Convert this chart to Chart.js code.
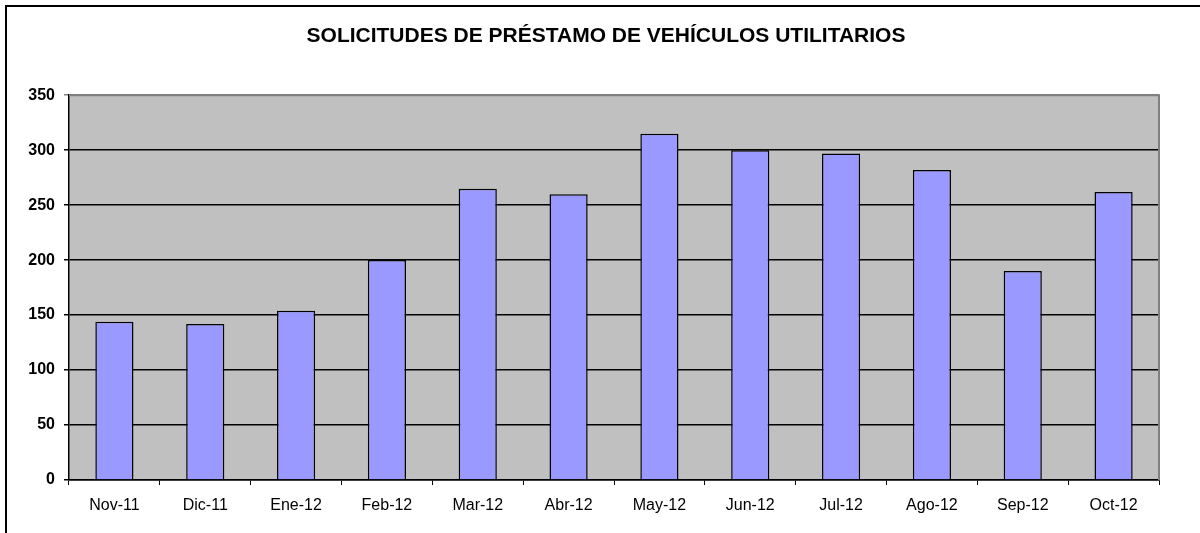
<!DOCTYPE html>
<html lang="es">
<head>
    <meta charset="UTF-8">
    <title>Solicitudes de préstamo</title>
    <script src="https://cdn.jsdelivr.net/npm/chart.js@4.4.0/dist/chart.umd.min.js"></script>
    <style>
        html, body { margin: 0; padding: 0; overflow: hidden; background: #fff; }
        .marco { position: absolute; left: 5px; top: 5px; width: 1300px; height: 700px; border: 2px solid #000; }
        .caja { position: absolute; left: 0; top: 0; width: 1212px; height: 533px; }
    </style>
</head>
<body>
    <div class="marco"></div>
    <div class="caja">
        <canvas id="canvas_grafico" width="1212" height="533"></canvas>
    </div>
<script>
    const meses = ['Nov-11', 'Dic-11', 'Ene-12', 'Feb-12', 'Mar-12', 'Abr-12', 'May-12', 'Jun-12', 'Jul-12', 'Ago-12', 'Sep-12', 'Oct-12'];
    const solicitudes = [144, 142, 154, 200, 265, 260, 315, 300, 297, 282, 190, 262];
    const ejeY = [0, 50, 100, 150, 200, 250, 300, 350];

    // fondo gris del area de trazado y borde gris arriba/derecha
    const fondo = {
        id: 'fondo',
        beforeDraw(chart) {
            const { ctx, chartArea: a } = chart;
            ctx.save();
            ctx.fillStyle = '#C0C0C0';
            ctx.fillRect(a.left, a.top, a.right - a.left, a.bottom - a.top);
            ctx.restore();
        },
        beforeDatasetsDraw(chart) {
            const { ctx, chartArea: a } = chart;
            ctx.save();
            ctx.strokeStyle = '#808080';
            ctx.lineWidth = 2;
            ctx.beginPath();
            ctx.moveTo(a.left, a.top);
            ctx.lineTo(a.right, a.top);
            ctx.lineTo(a.right, a.bottom);
            ctx.stroke();
            ctx.restore();
        }
    };

    const config = {
        type: 'bar',
        data: {
            labels: meses,
            datasets: [{
                data: solicitudes,
                backgroundColor: '#9999FF',
                borderColor: '#000000',
                borderWidth: 1.5,
                barPercentage: 0.42,
                categoryPercentage: 1
            }]
        },
        options: {
            responsive: false,
            animation: false,
            layout: { padding: 0 },
            plugins: {
                legend: { display: false },
                tooltip: { enabled: false },
                title: {
                    display: true,
                    text: 'SOLICITUDES DE PRÉSTAMO DE VEHÍCULOS UTILITARIOS',
                    color: '#000',
                    font: { family: 'Liberation Sans, Arial', size: 21, weight: 'bold' },
                    padding: { top: 24, bottom: 46 }
                }
            },
            scales: {
                x: {
                    grid: { offset: true, drawOnChartArea: false, color: '#000', tickLength: 5 },
                    border: { color: '#000', width: 1.5 },
                    ticks: { color: '#000', padding: 11, font: { family: 'Liberation Sans, Arial', size: 16 } },
                    afterFit(scale) { scale.height = 53; }
                },
                y: {
                    min: 0,
                    max: 350,
                    afterBuildTicks(scale) { scale.ticks = ejeY.map(v => ({ value: v })); },
                    grid: {
                        color: (c) => (c.tick && c.tick.value === 350 ? '#808080' : '#000'),
                        lineWidth: 1.5,
                        tickLength: 5
                    },
                    border: { color: '#000', width: 1.5 },
                    ticks: { color: '#000', padding: 9, font: { family: 'Liberation Sans, Arial', size: 16, weight: 'bold' } },
                    afterFit(scale) { scale.width = 69; }
                },
                relleno: {
                    position: 'right',
                    display: true,
                    grid: { display: false },
                    border: { display: false },
                    ticks: { display: false },
                    afterFit(scale) { scale.width = 53; }
                }
            }
        },
        plugins: [fondo]
    };

    const grafico = new Chart(document.getElementById('canvas_grafico'), config);
</script>
</body>
</html>
